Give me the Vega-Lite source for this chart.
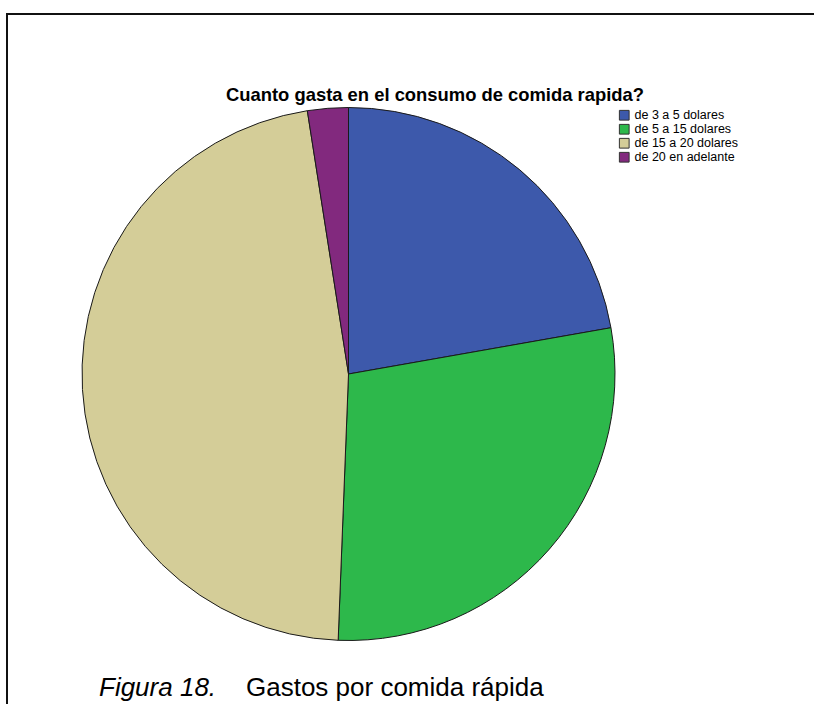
{
  "$schema": "https://vega.github.io/schema/vega-lite/v6.json",
  "padding": {"left": 6, "top": 13, "right": 0, "bottom": 0},
  "background": "white",
  "config": {
    "font": "Liberation Sans",
    "view": {"stroke": "#111111", "strokeWidth": 2}
  },
  "title": {
    "text": "Gastos por comida rápida",
    "orient": "bottom",
    "anchor": "start",
    "frame": "bounds",
    "offset": -60,
    "dx": 240,
    "fontSize": 26,
    "fontStyle": "normal",
    "fontWeight": "normal",
    "color": "#000000"
  },
  "vconcat": [
    {
      "title": {
        "text": "Figura 18.",
        "orient": "bottom",
        "anchor": "start",
        "frame": "bounds",
        "offset": -60,
        "dx": 93,
        "fontSize": 26,
        "fontStyle": "italic",
        "fontWeight": "normal",
        "color": "#000000"
      },
      "vconcat": [
        {
          "width": 830,
          "height": 720,
          "view": {"stroke": "#111111", "strokeWidth": 2, "fill": "white"},
          "title": {
            "text": "Cuanto gasta en el consumo de comida rapida?",
            "orient": "top",
            "anchor": "middle",
            "frame": "group",
            "offset": -90,
            "dx": 13,
            "fontSize": 18.4,
            "fontWeight": "bold",
            "color": "#000000"
          },
          "data": {
            "values": [
              {"gasto": "de 3 a 5 dolares", "frecuencia": 18, "orden": 1},
              {"gasto": "de 5 a 15 dolares", "frecuencia": 23, "orden": 2},
              {"gasto": "de 15 a 20 dolares", "frecuencia": 38, "orden": 3},
              {"gasto": "de 20 en adelante", "frecuencia": 2, "orden": 4}
            ]
          },
          "mark": {"type": "arc", "outerRadius": 266.5, "stroke": "#1a1a1a", "strokeWidth": 1, "xOffset": -73.5},
          "encoding": {
            "theta": {"field": "frecuencia", "type": "quantitative"},
            "order": {"field": "orden", "type": "ordinal"},
            "color": {
              "field": "gasto",
              "type": "nominal",
              "scale": {
                "domain": ["de 3 a 5 dolares", "de 5 a 15 dolares", "de 15 a 20 dolares", "de 20 en adelante"],
                "range": ["#3d59ab", "#2db84b", "#d4cd98", "#82297e"]
              },
              "legend": {
                "orient": "none",
                "legendX": 611,
                "legendY": 95,
                "title": null,
                "symbolType": "square",
                "symbolSize": 95,
                "symbolStrokeColor": "#333333",
                "symbolStrokeWidth": 1,
                "symbolOpacity": 1,
                "labelFontSize": 12.5,
                "labelColor": "#000000",
                "labelOffset": 4,
                "rowPadding": -1.5
              }
            }
          }
        }
      ]
    }
  ]
}
